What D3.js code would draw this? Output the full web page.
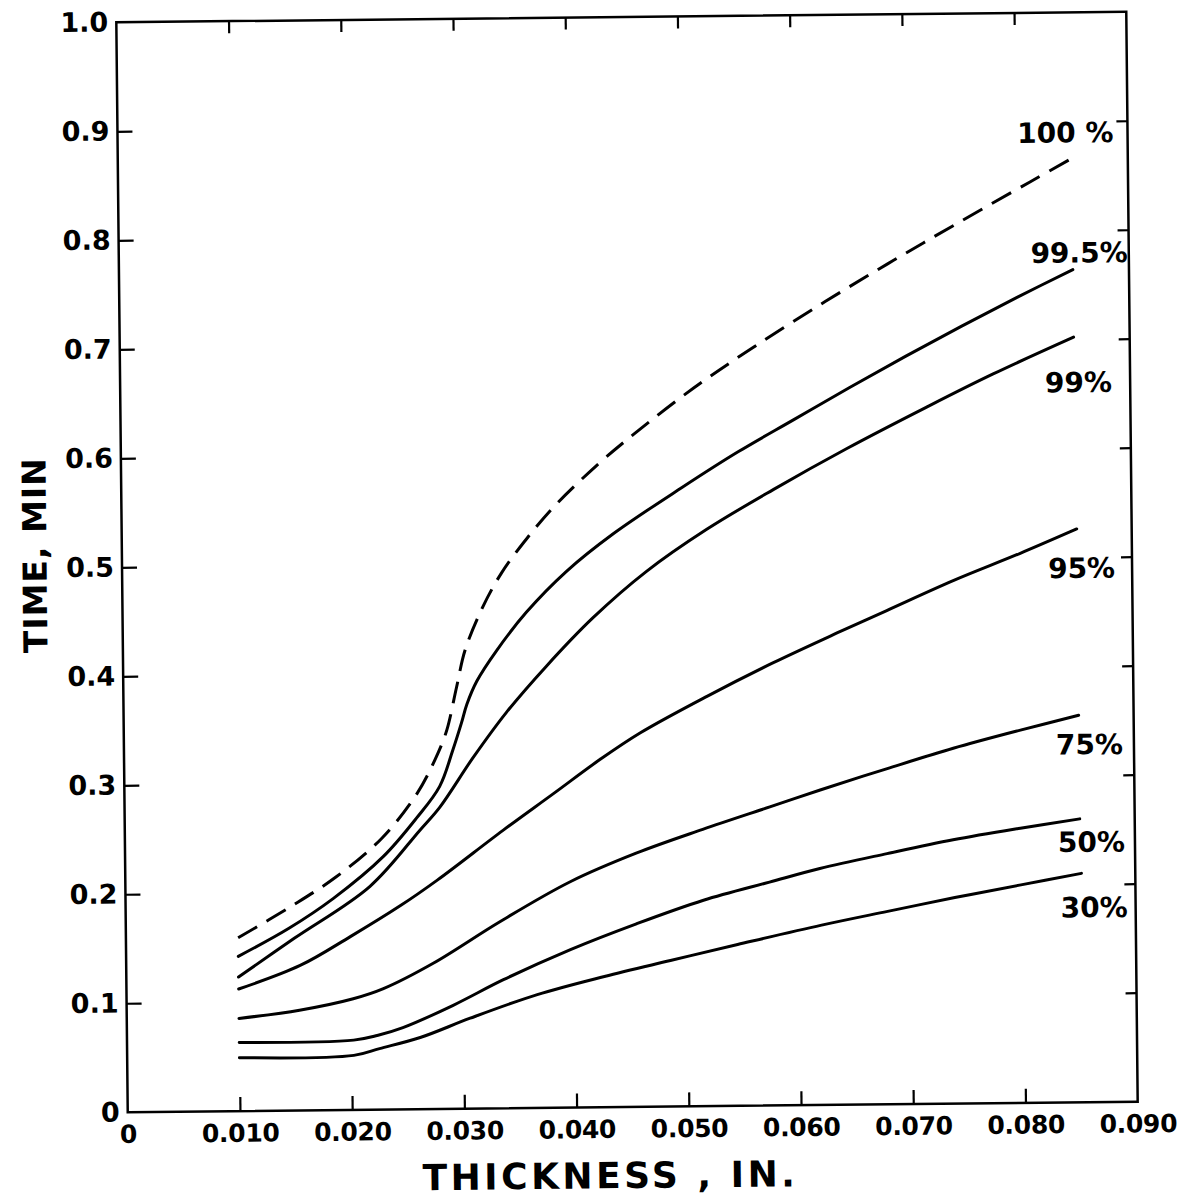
<!DOCTYPE html>
<html><head><meta charset="utf-8">
<script src="https://cdn.jsdelivr.net/npm/d3@7"></script>
<style>body{margin:0;background:#fff}</style>
</head><body><svg id="c" width="1177" height="1197"></svg>
<script>
// ---- data ----
const xTickValues = [0, 0.010, 0.020, 0.030, 0.040, 0.050, 0.060, 0.070, 0.080, 0.090];
const xTickLabels = ["0", "0.010", "0.020", "0.030", "0.040", "0.050", "0.060", "0.070", "0.080", "0.090"];
const yTickValues = [0, 0.1, 0.2, 0.3, 0.4, 0.5, 0.6, 0.7, 0.8, 0.9, 1.0];
const yTickLabels = ["0", "0.1", "0.2", "0.3", "0.4", "0.5", "0.6", "0.7", "0.8", "0.9", "1.0"];
const seriesNames = ["100 %", "99.5%", "99%", "95%", "75%", "50%", "30%"];

const curve100 = [[0.0100,0.159],[0.0147,0.187],[0.0188,0.214],[0.0229,0.249],[0.0261,0.290],[0.0280,0.327],[0.0288,0.348],[0.0297,0.387],[0.0305,0.421],[0.0321,0.460],[0.0338,0.491],[0.0359,0.520],[0.0385,0.551],[0.0424,0.589],[0.0457,0.617],[0.0511,0.659],[0.0565,0.696],[0.0629,0.737],[0.0690,0.774],[0.0750,0.809],[0.0813,0.845],[0.0850,0.866]];
const curve995 = [[0.0100,0.142],[0.0145,0.167],[0.0185,0.194],[0.0230,0.232],[0.0260,0.267],[0.0281,0.296],[0.0293,0.329],[0.0301,0.354],[0.0306,0.371],[0.0315,0.392],[0.0333,0.420],[0.0360,0.455],[0.0396,0.492],[0.0438,0.526],[0.0500,0.568],[0.0550,0.600],[0.0600,0.629],[0.0650,0.658],[0.0700,0.686],[0.0750,0.713],[0.0800,0.739],[0.0850,0.764]];
const curve99 = [[0.0100,0.123],[0.0150,0.158],[0.0218,0.205],[0.0263,0.256],[0.0281,0.277],[0.0311,0.322],[0.0341,0.363],[0.0377,0.405],[0.0419,0.449],[0.0467,0.491],[0.0521,0.529],[0.0581,0.565],[0.0647,0.602],[0.0718,0.639],[0.0778,0.669],[0.0850,0.702]];
const curve95 = [[0.0100,0.112],[0.0155,0.133],[0.0200,0.159],[0.0245,0.187],[0.0278,0.210],[0.0337,0.255],[0.0382,0.288],[0.0424,0.319],[0.0460,0.343],[0.0520,0.376],[0.0579,0.406],[0.0639,0.434],[0.0681,0.453],[0.0741,0.480],[0.0800,0.504],[0.0851,0.526]];
const curve75 = [[0.0100,0.085],[0.0154,0.092],[0.0202,0.102],[0.0229,0.111],[0.0274,0.134],[0.0333,0.171],[0.0396,0.207],[0.0456,0.233],[0.0515,0.254],[0.0575,0.274],[0.0620,0.289],[0.0680,0.308],[0.0739,0.326],[0.0799,0.342],[0.0851,0.355]];
const curve50 = [[0.0100,0.063],[0.0202,0.064],[0.0223,0.068],[0.0246,0.075],[0.0291,0.095],[0.0336,0.118],[0.0396,0.145],[0.0455,0.168],[0.0515,0.189],[0.0574,0.205],[0.0619,0.217],[0.0679,0.230],[0.0738,0.242],[0.0798,0.252],[0.0851,0.260]];
const curve30 = [[0.0100,0.049],[0.0202,0.050],[0.0225,0.056],[0.0262,0.066],[0.0306,0.083],[0.0366,0.104],[0.0426,0.120],[0.0485,0.134],[0.0545,0.148],[0.0620,0.165],[0.0679,0.177],[0.0739,0.189],[0.0798,0.200],[0.0852,0.210]];

// ---- layout ----
const W = 1177, H = 1197;
const M = {left: 122, right: 1132, top: 17, bottom: 1107};
const FONT = "'DejaVu Sans', sans-serif";
const curves = [curve100, curve995, curve99, curve95, curve75, curve50, curve30];
const dashes = ["22,11", null, null, null, null, null, null];
const labelOffsets = [[42,-16],[55,-7],[38,55],[38,49],[44,39],[45,33],[46,44]];

const x = d3.scaleLinear().domain([0, 0.09]).range([M.left, M.right]);
const y = d3.scaleLinear().domain([0, 1]).range([M.bottom, M.top]);

const svg = d3.select("#c");
svg.append("rect").attr("width", W).attr("height", H).attr("fill", "#fff");
const g = svg.append("g").attr("transform", "rotate(-0.6,627,562)");

// frame
g.append("rect").attr("x", M.left).attr("y", M.top)
  .attr("width", M.right - M.left).attr("height", M.bottom - M.top)
  .attr("fill", "none").attr("stroke", "#000").attr("stroke-width", 2.5);

function styleAxis(sel, fs) {
  sel.select(".domain").remove();
  sel.selectAll(".tick line").attr("stroke", "#000").attr("stroke-width", 2.2);
  sel.selectAll(".tick text").attr("font-family", FONT).attr("font-weight", "bold")
    .attr("font-size", fs).attr("fill", "#000");
}

const xb = g.append("g").attr("transform", `translate(0,${M.bottom})`)
  .call(d3.axisBottom(x).tickValues(xTickValues).tickSize(-14).tickPadding(13)
    .tickFormat((d, i) => xTickLabels[i]));
styleAxis(xb, 25);
xb.selectAll(".tick text").attr("letter-spacing", "-0.3");
xb.selectAll(".tick line").filter(d => d === 0 || d === 0.09).remove();

const xt = g.append("g").attr("transform", `translate(0,${M.top})`)
  .call(d3.axisTop(x).tickValues(xTickValues.filter(d => d > 0 && d < 0.09)).tickSize(-12).tickFormat(""));
styleAxis(xt, 0);

const yl = g.append("g").attr("transform", `translate(${M.left},0)`)
  .call(d3.axisLeft(y).tickValues(yTickValues).tickSize(-15).tickPadding(8)
    .tickFormat((d, i) => yTickLabels[i]));
styleAxis(yl, 27);
yl.selectAll(".tick line").filter(d => d === 0 || d === 1).remove();

const yr = g.append("g").attr("transform", `translate(${M.right},0)`)
  .call(d3.axisRight(y).tickValues(yTickValues.filter(d => d > 0 && d < 1)).tickSize(-11).tickFormat(""));
styleAxis(yr, 0);

// curves
const line = d3.line().x(d => x(d[0])).y(d => y(d[1])).curve(d3.curveCatmullRom.alpha(0.5));
curves.forEach((c, i) => {
  const p = g.append("path").datum(c).attr("d", line)
    .attr("fill", "none").attr("stroke", "#000").attr("stroke-width", 3)
    .attr("stroke-linecap", "round");
  if (dashes[i]) p.attr("stroke-dasharray", dashes[i]).attr("stroke-linecap", "butt");
  const last = c[c.length - 1];
  g.append("text").attr("x", x(last[0]) + labelOffsets[i][0]).attr("y", y(last[1]) + labelOffsets[i][1])
    .attr("text-anchor", "end").attr("font-family", FONT).attr("font-weight", "bold")
    .attr("font-size", 28).text(seriesNames[i]);
});

// axis titles
g.append("text").attr("transform", "translate(35,549) rotate(-90)")
  .attr("text-anchor", "middle").attr("dominant-baseline", "central")
  .attr("font-family", FONT).attr("font-weight", "bold").attr("font-size", 33)
  .attr("letter-spacing", "1").text("TIME, MIN");
g.append("text").attr("x", 604).attr("y", 1188)
  .attr("text-anchor", "middle").attr("font-family", FONT).attr("font-weight", "bold")
  .attr("font-size", 36).attr("letter-spacing", "3.5").text("THICKNESS , IN.");
</script>
</body></html>
